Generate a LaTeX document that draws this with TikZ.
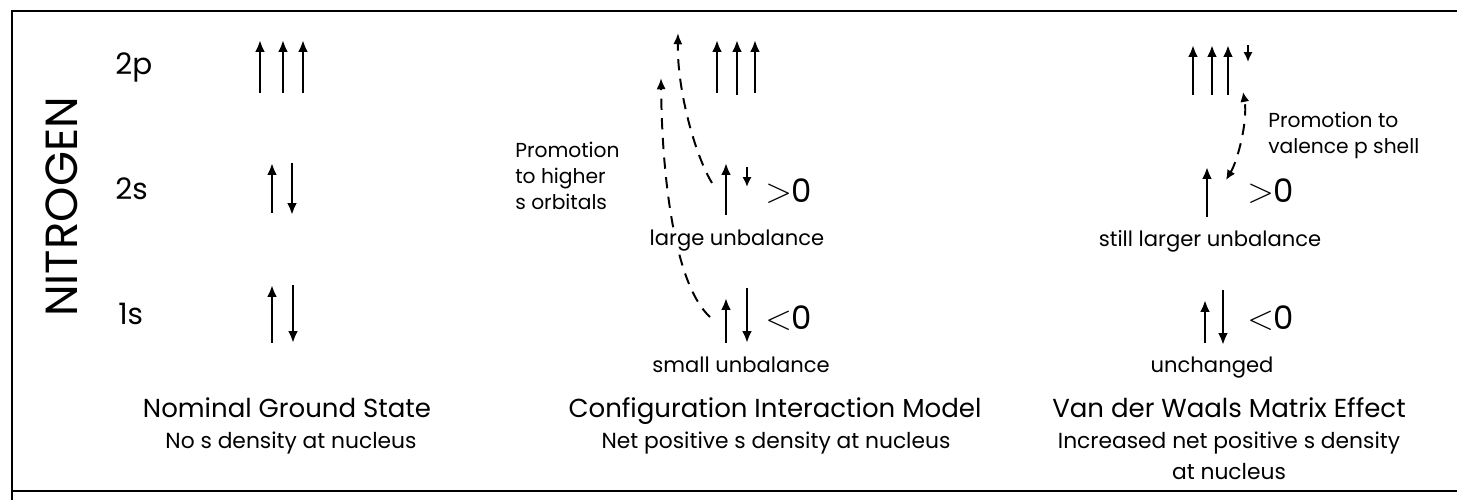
\documentclass[tikz,border=0pt]{standalone}
\usepackage{fontspec}
\setmainfont{Poppins}
\usetikzlibrary{arrows.meta}
\tikzset{
	frame/.style={line width=1.4pt},
	spin/.style={-{Latex[length=8.5pt,width=7pt]}, line width=1.7pt},
	shortspin/.style={-{Latex[length=7pt,width=6.5pt]}, line width=1.5pt},
	promo/.style={-{Latex[length=8pt,width=6.5pt]}, line width=1.4pt, dash pattern=on 8pt off 6pt},
	atom/.style={font=\fontsize{32}{32}\selectfont, rotate=90, inner sep=0pt},
	level/.style={font=\fontsize{21}{21}\selectfont, anchor=base west, inner sep=0pt},
	sign/.style={font=\fontsize{23}{23}\selectfont, anchor=base west, inner sep=0pt},
	balance/.style={font=\fontsize{15}{15}\selectfont, anchor=base, inner sep=1pt, fill=white},
	note/.style={font=\fontsize{14.4}{18.5}\selectfont, anchor=north west, align=left, inner sep=0pt},
	title/.style={font=\fontsize{18.5}{18.5}\selectfont, anchor=base, inner sep=0pt},
	subtitle/.style={font=\fontsize{15.5}{22}\selectfont, anchor=base, align=center, inner sep=0pt},
}
\begin{document}
\begin{tikzpicture}[x=0.025cm, y=-0.025cm]
	\useasboundingbox (0,0) rectangle (1457,503);
	\draw[frame] (1457,11) -- (12,11) -- (12,500);
	\draw[frame] (12,491) -- (1457,491);
	\node[atom] (atom) at (62,207) {NITROGEN};
	\node[level] (lv2p) at (115,75) {2p};
	\node[level] (lv2s) at (115,200) {2s};
	\node[level] (lv1s) at (118,325) {1s};

	% nominal ground state
	\draw[spin] (260,93) -- (260,40);
	\draw[spin] (283,93) -- (283,40);
	\draw[spin] (303,93) -- (303,40);
	\draw[spin] (272,213) -- (272,163);
	\draw[spin] (292,163) -- (292,215);
	\draw[spin] (272,343) -- (272,285);
	\draw[spin] (293,285) -- (293,343);
	\node[title] (ground) at (287,417) {Nominal Ground State};
	\node[subtitle] (groundsub) at (291,448) {No s density at nucleus};

	% configuration interaction
	\draw[spin] (717,93) -- (717,40);
	\draw[spin] (737,95) -- (737,40);
	\draw[spin] (755,93) -- (755,40);
	\draw[spin] (726,215) -- (726,163);
	\draw[shortspin] (747,167) -- (747,187);
	\draw[spin] (726,343) -- (726,298);
	\draw[spin] (747,288) -- (747,343);
	\node[sign] (cigt) at (765,203) {$>$0};
	\node[sign] (cilt) at (765,330) {$<$0};
	\coordinate (ci2s) at (712,183);
	\coordinate (ci2p) at (678,33);
	\coordinate (ci1s) at (710,317);
	\coordinate (cihigh) at (661,78);
	\draw[promo] (ci1s) .. controls (675,285) and (662,180) .. (cihigh);
	\draw[promo] (ci2s) .. controls (695,155) and (677,90) .. (ci2p);
	\node[balance] (cilarge) at (737,246) {large unbalance};
	\node[balance] (cismall) at (741,373) {small unbalance};
	\node[note] (cinote) at (515,142) {Promotion\\to higher\\s orbitals};
	\node[title] (ci) at (775,417) {Configuration Interaction Model};
	\node[subtitle] (cisub) at (776,448) {Net positive s density at nucleus};

	% van der waals matrix effect
	\draw[spin] (1193,95) -- (1193,45);
	\draw[spin] (1212,95) -- (1212,45);
	\draw[spin] (1228,95) -- (1228,45);
	\draw[shortspin] (1248,45) -- (1248,62);
	\draw[spin] (1207,217) -- (1207,167);
	\draw[spin] (1205,343) -- (1205,300);
	\draw[spin] (1223,290) -- (1223,345);
	\node[sign] (vdwgt) at (1247,203) {$>$0};
	\node[sign] (vdwlt) at (1247,330) {$<$0};
	\coordinate (vdw2s) at (1226,180);
	\coordinate (vdw2p) at (1243,92);
	\draw[promo, {Latex[length=7pt,width=6.5pt]}-{Latex[length=7pt,width=6.5pt]}] (vdw2s) .. controls (1238,160) and (1248,120) .. (vdw2p);
	\node[note] (vdwnote) at (1268,112) {Promotion to\\valence p shell};
	\node[balance] (vdwlarger) at (1210,247) {still larger unbalance};
	\node[balance] (vdwsame) at (1212,373) {unchanged};
	\node[title] (vdw) at (1229,417) {Van der Waals Matrix Effect};
	\node[subtitle] (vdwsub) at (1229,479) {Increased net positive s density\\at nucleus};
\end{tikzpicture}
\end{document}
